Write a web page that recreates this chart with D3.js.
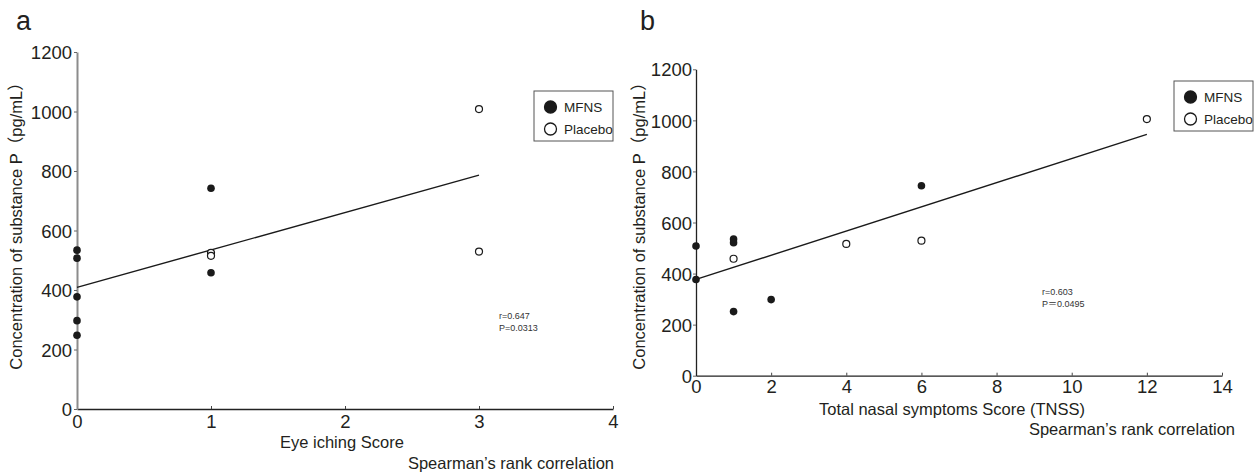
<!DOCTYPE html>
<html lang="en">
<head>
  <meta charset="UTF-8" />
  <title>Substance P correlation</title>
  <style>
    body, html {
      margin: 0;
      padding: 0;
      background: white;
    }
    svg text {
      font-family: "Liberation Sans", Arial, "Noto Sans CJK JP", sans-serif;
      fill: #231f20;
    }
    .tick text {
      font-size: 18.5px;
    }
    .note {
      font-size: 9px;
      fill: #333;
    }
  </style>
</head>
<body>
  <div id="canvas"></div>
  <script src="https://d3js.org/d3.v7.min.js"></script>
  <script>
    // panel a: eye itching score
    const aMfnsX = [0, 0, 0, 0, 0, 1, 1];
    const aMfnsY = [534, 507, 377, 297, 248, 458, 742];
    const aPlaceboX = [1, 1, 3, 3];
    const aPlaceboY = [525, 515, 1008, 529];
    const aFitX = [0, 3];
    const aFitY = [409, 786];
    const aXTicks = [0, 1, 2, 3, 4];

    // panel b: TNSS
    const bMfnsX = [0, 0, 1, 1, 1, 2, 6];
    const bMfnsY = [508, 377, 535, 521, 251, 298, 744];
    const bPlaceboX = [1, 4, 6, 12];
    const bPlaceboY = [458, 516, 529, 1005];
    const bFitX = [0, 12];
    const bFitY = [377, 945];
    const bXTicks = [0, 2, 4, 6, 8, 10, 12, 14];

    const yTicks = [0, 200, 400, 600, 800, 1000, 1200];
    const legendLabels = ["MFNS", "Placebo"];

    const w = 1260, h = 476;

    const svg = d3.select("#canvas")
      .append("svg")
      .attr("width", w)
      .attr("height", h);

    function zip(xs, ys) {
      return xs.map((x, i) => ({ x: x, y: ys[i] }));
    }

    function drawPanel(p) {
      const g = svg.append("g");
      const x = d3.scaleLinear().domain(p.xDomain).range([p.left, p.right]);
      const y = d3.scaleLinear().domain([0, 1200]).range([p.bottom, p.top]);

      //x axis
      const xAxis = d3.axisBottom(x)
        .tickValues(p.xTicks)
        .tickFormat(d3.format("d"))
        .tickSizeInner(-3)
        .tickSizeOuter(0)
        .tickPadding(p.xPad);
      const gx = g.append("g")
        .attr("transform", "translate(0," + p.bottom + ")")
        .call(xAxis);
      gx.select(".domain").attr("stroke", "#222").attr("stroke-width", 1.3);
      gx.selectAll(".tick line").attr("stroke", "#444");

      //y axis
      const yAxis = d3.axisLeft(y)
        .tickValues(yTicks)
        .tickFormat(d3.format("d"))
        .tickSizeInner(3)
        .tickSizeOuter(0)
        .tickPadding(p.yPad);
      const gy = g.append("g")
        .attr("transform", "translate(" + p.left + ",0)")
        .call(yAxis);
      gy.select(".domain").attr("stroke", p.yAxisColor).attr("stroke-width", p.yAxisWidth);
      gy.selectAll(".tick line").attr("stroke", "#666");
      gy.selectAll(".tick text").attr("dy", "0.36em");

      //panel letter
      g.append("text")
        .attr("x", p.letterX)
        .attr("y", p.letterY)
        .style("font-size", "27px")
        .text(p.letter);

      //y title
      g.append("text")
        .attr("transform", "translate(" + p.yTitleX + "," + p.yTitleY + ") rotate(-90)")
        .attr("text-anchor", "middle")
        .style("font-size", "16.5px")
        .text("Concentration of substance P（pg/mL）");

      //x title
      g.append("text")
        .attr("x", p.xTitleX)
        .attr("y", p.xTitleY)
        .style("font-size", "16.5px")
        .text(p.xTitle);

      g.append("text")
        .attr("x", p.spearX)
        .attr("y", p.spearY)
        .attr("text-anchor", "end")
        .style("font-size", "16.5px")
        .text("Spearman’s rank correlation");

      //regression line
      const line = d3.line().x(d => x(d.x)).y(d => y(d.y));
      g.append("path")
        .datum(zip(p.fitX, p.fitY))
        .attr("d", line)
        .attr("fill", "none")
        .attr("stroke", "#1a1a1a")
        .attr("stroke-width", 1.4);

      //points
      g.selectAll(".mfns")
        .data(zip(p.mfnsX, p.mfnsY))
        .enter()
        .append("circle")
        .attr("class", "mfns")
        .attr("cx", d => x(d.x))
        .attr("cy", d => y(d.y))
        .attr("r", 3.8)
        .attr("fill", "#1a1a1a");

      g.selectAll(".placebo")
        .data(zip(p.placeboX, p.placeboY))
        .enter()
        .append("circle")
        .attr("class", "placebo")
        .attr("cx", d => x(d.x))
        .attr("cy", d => y(d.y))
        .attr("r", 3.5)
        .attr("fill", "white")
        .attr("stroke", "#1a1a1a")
        .attr("stroke-width", 1.2);

      //stats note
      g.append("text")
        .attr("class", "note")
        .attr("x", p.noteX)
        .attr("y", p.noteY)
        .text(p.noteR);
      g.append("text")
        .attr("class", "note")
        .attr("x", p.noteX)
        .attr("y", p.noteY + 12)
        .text(p.noteP);

      //legend
      const legend = g.append("g")
        .attr("transform", "translate(" + p.legX + "," + p.legY + ")");
      legend.append("rect")
        .attr("width", 79)
        .attr("height", 50)
        .attr("fill", "white")
        .attr("stroke", "#555")
        .attr("stroke-width", 1);
      legend.selectAll(".lm")
        .data(legendLabels)
        .enter()
        .append("circle")
        .attr("cx", 16.5)
        .attr("cy", (d, i) => 16 + i * 22)
        .attr("r", 6)
        .attr("fill", (d, i) => i === 0 ? "#1a1a1a" : "white")
        .attr("stroke", "#1a1a1a")
        .attr("stroke-width", 1.3);
      legend.selectAll(".lt")
        .data(legendLabels)
        .enter()
        .append("text")
        .attr("x", 30)
        .attr("y", (d, i) => 16 + i * 22)
        .attr("dy", "0.35em")
        .style("font-size", "13.5px")
        .text(d => d);
    }

    drawPanel({
      letter: "a", letterX: 16, letterY: 30,
      xDomain: [0, 4], xTicks: aXTicks,
      left: 77, right: 613, top: 52, bottom: 409,
      xPad: 6, yPad: 2, yAxisColor: "#8c8c8c", yAxisWidth: 2,
      yTitleX: 22, yTitleY: 222,
      xTitle: "Eye iching Score", xTitleX: 280, xTitleY: 448,
      spearX: 614, spearY: 469,
      fitX: aFitX, fitY: aFitY,
      mfnsX: aMfnsX, mfnsY: aMfnsY,
      placeboX: aPlaceboX, placeboY: aPlaceboY,
      noteX: 499, noteY: 319, noteR: "r=0.647", noteP: "P=0.0313",
      legX: 534, legY: 91
    });

    drawPanel({
      letter: "b", letterX: 640, letterY: 30,
      xDomain: [0, 14], xTicks: bXTicks,
      left: 696, right: 1222, top: 69.3, bottom: 375.7,
      xPad: 4, yPad: 1, yAxisColor: "#222", yAxisWidth: 1.3,
      yTitleX: 645, yTitleY: 222,
      xTitle: "Total nasal symptoms Score (TNSS)", xTitleX: 819, xTitleY: 415,
      spearX: 1235, spearY: 435,
      fitX: bFitX, fitY: bFitY,
      mfnsX: bMfnsX, mfnsY: bMfnsY,
      placeboX: bPlaceboX, placeboY: bPlaceboY,
      noteX: 1042, noteY: 295, noteR: "r=0.603", noteP: "P＝0.0495",
      legX: 1174, legY: 81
    });
  </script>
</body>
</html>
